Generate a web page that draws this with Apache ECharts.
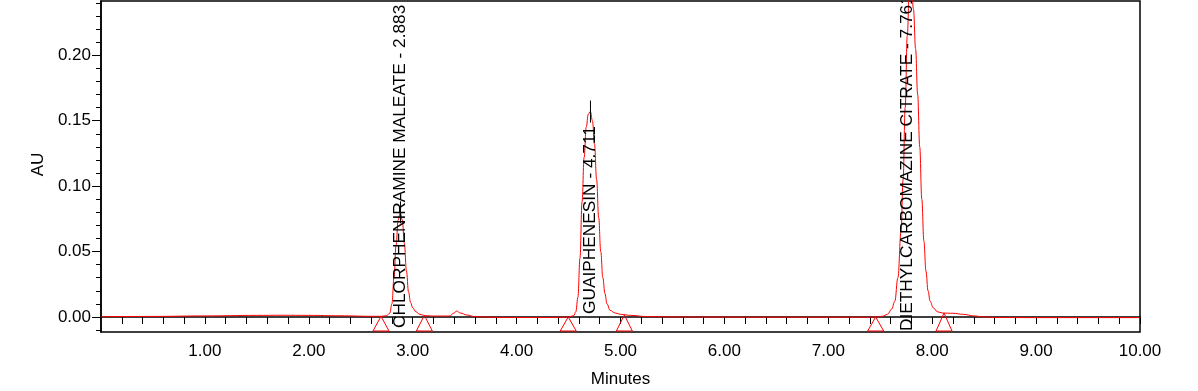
<!DOCTYPE html>
<html>
<head>
<meta charset="utf-8">
<script src="https://cdn.jsdelivr.net/npm/echarts@6/dist/echarts.min.js"></script>
<style>
html,body{margin:0;padding:0;background:#fff;}
#chart{width:1198px;height:391px;}
</style>
</head>
<body>
<div id="chart"></div>
<script>
// ---- data ----
const traceTimes = [
  0.0, 0.5, 1.0, 1.5, 1.75, 2.0, 2.3, 2.6, 2.70, 2.75, 2.78, 2.80, 2.82, 2.84, 2.86, 2.88, 2.90, 2.92, 2.94, 2.96, 2.98, 3.00, 3.03, 3.07, 3.12, 3.20,
  3.35, 3.40, 3.42, 3.46, 3.52, 3.60, 3.8, 4.0, 4.3, 4.45,
  4.50, 4.55, 4.57, 4.59, 4.61, 4.63, 4.65, 4.67, 4.69, 4.71, 4.73, 4.75, 4.77, 4.79, 4.81, 4.83, 4.85, 4.87, 4.90, 4.95, 5.00, 5.10, 5.25,
  5.5, 6.0, 6.5, 7.0, 7.4,
  7.45, 7.52, 7.57, 7.61, 7.64, 7.67, 7.70, 7.72, 7.74, 7.76, 7.78, 7.80, 7.82, 7.84, 7.86, 7.88, 7.90, 7.92, 7.94, 7.96, 7.98, 8.01, 8.05, 8.10, 8.20, 8.30, 8.40, 8.50,
  8.6, 9.0, 9.5, 10.0
];
const traceAU = [
  0.0002, 0.0004, 0.0008, 0.0012, 0.0013, 0.0012, 0.0009, 0.0005, 0.0005, 0.001, 0.003, 0.010, 0.030, 0.055, 0.074, 0.080, 0.074, 0.056, 0.035, 0.019, 0.011, 0.007, 0.004, 0.002, 0.001, 0.0007,
  0.0007, 0.003, 0.0045, 0.003, 0.0015, 0.0002, -0.0003, -0.0004, -0.0004, -0.0002,
  0.0000, 0.001, 0.004, 0.015, 0.045, 0.088, 0.122, 0.145, 0.155, 0.157, 0.150, 0.132, 0.105, 0.076, 0.050, 0.030, 0.018, 0.010, 0.005, 0.003, 0.002, 0.0012, 0.0003,
  0.0000, -0.0001, -0.0002, -0.0002, -0.0002,
  0.0000, 0.0005, 0.002, 0.006, 0.012, 0.030, 0.065, 0.105, 0.160, 0.215, 0.250, 0.252, 0.235, 0.205, 0.170, 0.130, 0.090, 0.058, 0.035, 0.020, 0.012, 0.007, 0.004, 0.003, 0.0028, 0.002, 0.0008, 0.0000,
  -0.0004, -0.0005, -0.0005, -0.0005
];
const peakNames = ['CHLORPHENIRAMINE MALEATE - 2.883', 'GUAIPHENESIN - 4.711', 'DIETHYLCARBOMAZINE CITRATE - 7.761'];
const peakTimes = [2.883, 4.711, 7.761];
const peakApexAU = [0.080, 0.157, 0.252];
const markerTimes = [2.695, 3.112, 4.497, 5.037, 7.456, 8.114];
const markerAU = [0.0005, 0.0012, 0.0000, 0.0015, 0.0000, 0.003];
const xLabelValues = [1, 2, 3, 4, 5, 6, 7, 8, 9, 10];
const yLabelValues = [0, 0.05, 0.10, 0.15, 0.20];
const xTitle = 'Minutes';
const yTitle = 'AU';

// ---- layout / style (pixels) ----
const labelLift = [4, 18, 1];   // distance of each peak label start above the plot bottom

// ---- axis ranges ----
const xMin = 0, xMax = 10;
const yMin = -0.0115, yMax = 0.2415;
const xTickStep = 0.2, yMinorStep = 0.01;
const xTicks = [];
for (let i = 1; i <= Math.round((xMax - xMin) / xTickStep); i++) xTicks.push(+(xMin + i * xTickStep).toFixed(2));
const yMinorTicks = [];
for (let v = -1; v <= 24; v++) yMinorTicks.push(+(v * yMinorStep).toFixed(2));

const FONT = '"Liberation Sans", Arial, sans-serif';
const trace = traceTimes.map((t, i) => [t, traceAU[i]]);

const chart = echarts.init(document.getElementById('chart'), null, {renderer: 'canvas'});
chart.setOption({
  animation: false,
  backgroundColor: '#fff',
  grid: {left: 101, right: 58, top: 1, bottom: 59, containLabel: false, outerBoundsMode: 'none',
    show: true, borderColor: '#000', borderWidth: 1.5, backgroundColor: 'transparent'},
  xAxis: {
    type: 'value', min: xMin, max: xMax,
    name: xTitle, nameLocation: 'middle', nameGap: 39,
    nameTextStyle: {color: '#000', fontSize: 17, fontFamily: FONT},
    axisLine: {show: true, lineStyle: {color: '#000', width: 1.5}},
    axisTick: {show: true, customValues: xTicks, length: 7, lineStyle: {color: '#000', width: 1}},
    axisLabel: {customValues: xLabelValues, formatter: v => v.toFixed(2), color: '#000', fontSize: 17, fontFamily: FONT, margin: 11},
    splitLine: {show: false}
  },
  yAxis: [{
    type: 'value', min: yMin, max: yMax,
    name: yTitle, nameLocation: 'middle', nameGap: 47, nameRotate: 90,
    nameTextStyle: {color: '#000', fontSize: 17, fontFamily: FONT, padding: [0, 0, 0, 4]},
    axisLine: {show: true, lineStyle: {color: '#000', width: 1.5}},
    axisTick: {show: true, customValues: yLabelValues, length: 9, lineStyle: {color: '#000', width: 1}},
    axisLabel: {customValues: yLabelValues, formatter: v => v.toFixed(2), color: '#000', fontSize: 17, fontFamily: FONT, margin: 10},
    splitLine: {show: false}
  }, {
    type: 'value', min: yMin, max: yMax, position: 'left', offset: 0,
    axisLine: {show: false},
    axisTick: {show: true, customValues: yMinorTicks, length: 5, lineStyle: {color: '#000', width: 1}},
    axisLabel: {show: false},
    splitLine: {show: false}
  }],
  series: [
    {
      type: 'line', data: trace, showSymbol: false, smooth: 0.4, smoothMonotone: 'x',
      lineStyle: {color: '#ff0000', width: 1}, clip: true, z: 3
    },
    {
      type: 'custom', clip: true, z: 4,
      data: markerTimes.map((t, i) => [t, markerAU[i]]),
      renderItem: (params, api) => {
        const p = api.coord([api.value(0), api.value(1)]);
        const bottom = params.coordSys.y + params.coordSys.height - 1;
        return {type: 'polygon', shape: {points: [[p[0], p[1]], [p[0] - 8, bottom], [p[0] + 8, bottom]]},
          style: {fill: 'none', stroke: '#ff0000', lineWidth: 1}};
      }
    },
    {
      type: 'custom', clip: true, z: 4,
      data: peakTimes.map((t, i) => [t, peakApexAU[i]]),
      renderItem: (params, api) => {
        const p = api.coord([api.value(0), api.value(1)]);
        return {type: 'line', shape: {x1: p[0], y1: p[1] - 11, x2: p[0], y2: p[1] + 11},
          style: {stroke: '#000', lineWidth: 1}};
      }
    },
    {
      type: 'custom', clip: true, z: 5,
      data: peakTimes.map((t, i) => [t, peakApexAU[i]]),
      renderItem: (params, api) => {
        const p = api.coord([api.value(0), yMin]);
        return {type: 'text', x: p[0], y: p[1] - labelLift[params.dataIndex], rotation: Math.PI / 2,
          style: {text: peakNames[params.dataIndex], fill: '#000', fontSize: 17.3, fontFamily: FONT, align: 'left', verticalAlign: 'middle'}};
      }
    }
  ]
});
</script>
</body>
</html>
